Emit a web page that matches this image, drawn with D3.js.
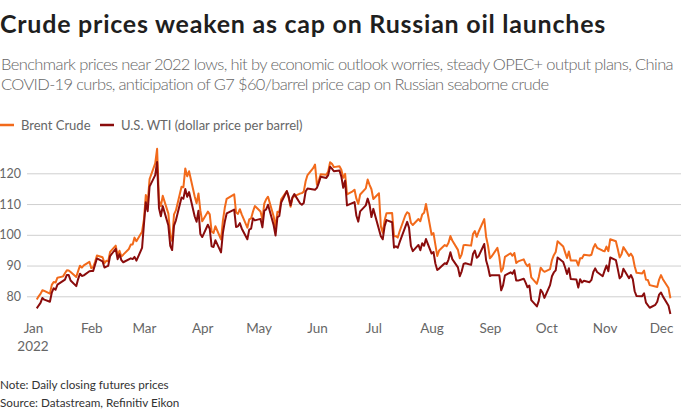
<!DOCTYPE html>
<html lang="en">
<head>
<meta charset="UTF-8">
<title>Crude prices</title>
<style>
    body { margin: 0; background: #fff; }
    svg { display: block; font-family: Lato, "Noto Sans", sans-serif; }
</style>
</head>
<body>
<script src="https://cdn.jsdelivr.net/npm/d3@7"></script>
<script>
    const W = 681, H = 413;

    // trading days 2022 (MM-DD)
    const dates = [
        "01-03","01-04","01-05","01-06","01-07","01-10","01-11","01-12","01-13","01-14","01-17","01-18","01-19","01-20","01-21","01-24","01-25","01-26","01-27","01-28","01-31",
        "02-01","02-02","02-03","02-04","02-07","02-08","02-09","02-10","02-11","02-14","02-15","02-16","02-17","02-18","02-21","02-22","02-23","02-24","02-25","02-28",
        "03-01","03-02","03-03","03-04","03-07","03-08","03-09","03-10","03-11","03-14","03-15","03-16","03-17","03-18","03-21","03-22","03-23","03-24","03-25","03-28","03-29","03-30","03-31",
        "04-01","04-04","04-05","04-06","04-07","04-08","04-11","04-12","04-13","04-14","04-18","04-19","04-20","04-21","04-22","04-25","04-26","04-27","04-28","04-29",
        "05-02","05-03","05-04","05-05","05-06","05-09","05-10","05-11","05-12","05-13","05-16","05-17","05-18","05-19","05-20","05-23","05-24","05-25","05-26","05-27","05-30","05-31",
        "06-01","06-02","06-03","06-06","06-07","06-08","06-09","06-10","06-13","06-14","06-15","06-16","06-17","06-20","06-21","06-22","06-23","06-24","06-27","06-28","06-29","06-30",
        "07-01","07-04","07-05","07-06","07-07","07-08","07-11","07-12","07-13","07-14","07-15","07-18","07-19","07-20","07-21","07-22","07-25","07-26","07-27","07-28","07-29",
        "08-01","08-02","08-03","08-04","08-05","08-08","08-09","08-10","08-11","08-12","08-15","08-16","08-17","08-18","08-19","08-22","08-23","08-24","08-25","08-26","08-29","08-30","08-31",
        "09-01","09-02","09-05","09-06","09-07","09-08","09-09","09-12","09-13","09-14","09-15","09-16","09-19","09-20","09-21","09-22","09-23","09-26","09-27","09-28","09-29","09-30",
        "10-03","10-04","10-05","10-06","10-07","10-10","10-11","10-12","10-13","10-14","10-17","10-18","10-19","10-20","10-21","10-24","10-25","10-26","10-27","10-28","10-31",
        "11-01","11-02","11-03","11-04","11-07","11-08","11-09","11-10","11-11","11-14","11-15","11-16","11-17","11-18","11-21","11-22","11-23","11-24","11-25","11-28","11-29","11-30",
        "12-01","12-02","12-05","12-06"
    ];

    const brent = [
        78.98,80.00,80.80,81.99,81.75,80.87,83.72,84.67,84.47,86.06,86.48,87.51,88.44,88.38,87.89,86.27,88.20,89.96,89.34,90.03,91.21,
        89.16,89.47,91.11,93.27,92.69,90.78,91.55,91.41,94.44,96.48,93.28,94.81,92.97,93.54,95.39,96.84,96.84,99.08,97.93,100.99,
        104.97,112.93,110.46,118.11,123.21,127.98,111.14,109.33,112.67,106.90,99.91,98.02,106.64,107.93,115.62,115.48,121.60,119.03,120.65,112.48,110.23,113.45,107.91,
        104.39,107.53,106.64,101.07,100.58,102.78,98.48,104.64,108.78,111.70,113.16,107.25,106.80,108.33,106.65,102.32,104.99,105.32,107.59,109.34,
        107.58,104.97,110.14,111.55,112.39,105.94,102.46,107.51,107.45,111.55,114.24,111.93,109.11,112.04,112.55,113.42,113.56,114.03,117.40,119.43,121.67,122.84,
        116.29,117.61,119.72,119.51,120.57,123.58,123.07,122.01,122.27,121.17,118.51,119.81,113.12,114.13,114.65,111.74,110.05,113.12,115.09,117.98,116.26,114.81,
        111.63,113.50,102.77,100.69,104.65,107.02,107.10,99.49,99.57,99.10,101.16,106.27,107.35,106.92,103.86,103.20,105.15,104.40,106.62,107.14,110.01,
        100.03,100.54,96.78,93.12,94.92,96.65,96.31,97.40,99.60,98.15,95.10,92.34,93.65,96.59,96.72,96.48,100.22,101.22,99.34,100.99,105.09,99.31,96.49,
        92.36,93.02,95.74,92.83,88.00,89.15,92.84,94.00,93.17,94.10,90.84,91.35,92.00,90.62,89.83,90.46,86.15,84.06,86.27,89.32,88.49,87.96,
        88.86,91.80,93.37,94.42,97.92,96.19,94.29,92.45,94.57,91.63,91.62,90.03,92.41,92.38,93.50,93.26,93.52,95.69,96.96,95.77,94.83,
        94.65,96.16,94.67,98.57,97.92,95.36,92.65,93.67,95.99,93.14,93.86,92.86,89.78,87.62,87.45,88.36,85.41,85.34,83.63,83.19,83.03,85.43,
        86.88,85.57,82.68,79.35
    ];

    // null = no WTI settlement that day (US holiday)
    const wti = [
        76.08,76.99,77.85,79.46,78.90,78.23,81.22,82.64,82.12,83.82,null,85.43,86.96,86.90,85.14,83.31,85.60,87.35,86.61,86.82,88.15,
        88.20,88.26,90.27,92.31,91.32,89.36,89.66,89.88,93.10,95.46,92.07,93.66,91.76,91.07,null,92.35,92.10,92.81,91.59,95.72,
        103.41,110.60,107.67,115.68,119.40,123.70,108.70,106.02,109.33,103.01,96.44,95.04,102.98,104.70,112.12,111.76,114.93,112.34,113.90,105.96,104.24,107.82,100.28,
        99.27,103.28,101.96,96.23,96.03,98.26,94.29,100.60,104.25,106.95,108.21,102.56,102.75,103.79,102.07,98.54,101.70,102.02,105.36,104.69,
        105.17,102.41,107.81,108.26,109.77,103.09,99.76,105.71,106.13,110.49,114.20,112.40,109.59,112.21,113.23,110.29,109.77,110.33,114.09,115.07,null,114.67,
        115.26,116.87,118.87,118.50,119.41,122.11,121.51,120.67,120.93,118.93,115.31,117.59,109.56,null,110.65,106.19,104.27,107.62,109.57,111.76,109.78,105.76,
        108.43,null,99.50,98.53,102.73,104.79,104.09,95.84,96.30,95.78,97.59,102.60,104.22,102.26,96.35,94.70,96.70,94.98,97.26,96.42,98.62,
        93.89,94.42,90.66,88.54,89.01,90.76,90.50,91.93,94.34,92.09,89.41,86.53,88.11,90.50,90.77,90.23,93.74,94.89,92.52,93.06,97.01,91.64,89.55,
        86.61,86.87,null,86.88,81.94,83.54,86.79,87.78,87.31,88.48,85.10,85.11,85.73,84.45,82.94,83.49,78.74,76.71,78.50,82.15,81.23,79.49,
        83.63,86.52,87.76,88.45,92.64,91.13,89.35,87.27,89.11,85.61,85.46,82.82,85.55,84.51,85.05,84.58,85.32,87.91,89.08,87.90,86.53,
        88.37,90.00,88.17,92.61,91.79,88.91,85.83,86.47,88.96,85.87,86.92,85.59,81.64,80.08,80.04,80.95,77.94,null,76.28,77.24,78.20,80.55,
        81.22,79.98,76.93,74.25
    ];

    const yTicks = [80, 90, 100, 110, 120];
    const seriesNames = ["Brent Crude", "U.S. WTI (dollar price per barrel)"];
    const colors = ["#f26a1b", "#8a0c0c"];

    const parse = d3.timeParse("%Y-%m-%d");
    const days = dates.map(d => parse("2022-" + d));

    const svg = d3.select("body").append("svg")
        .attr("width", W)
        .attr("height", H);

    // resserre un texte par letter-spacing jusqu'a la largeur voulue
    function fitWidth(sel, target) {
        sel.each(function () {
            const n = this.textContent.length;
            const w = this.getComputedTextLength();
            d3.select(this).style("letter-spacing", ((target - w) / n) + "px");
        });
    }

    // titre et sous-titre
    svg.append("text")
        .attr("x", 0).attr("y", 33)
        .style("font-size", "25px").style("font-weight", 700).style("fill", "#1f1f1f")
        .text("Crude prices weaken as cap on Russian oil launches")
        .call(fitWidth, 606);

    const sub = [
        ["Benchmark prices near 2022 lows, hit by economic outlook worries, steady OPEC+ output plans, China", 672, 70],
        ["COVID-19 curbs, anticipation of G7 $60/barrel price cap on Russian seaborne crude", 548, 90]
    ];
    svg.selectAll(".sub").data(sub).join("text")
        .attr("class", "sub")
        .attr("x", 1).attr("y", d => d[2])
        .style("font-size", "16.5px").style("font-weight", 300).style("fill", "#666")
        .text(d => d[0])
        .each(function (d) { d3.select(this).call(fitWidth, d[1]); });

    // legende
    const legX = [0, 100];
    const leg = svg.selectAll(".leg").data(seriesNames).join("g")
        .attr("class", "leg")
        .attr("transform", (d, i) => `translate(${legX[i]}, 125)`);
    leg.append("line")
        .attr("x1", 0).attr("x2", 14)
        .attr("stroke", (d, i) => colors[i]).attr("stroke-width", 2.5);
    leg.append("text")
        .attr("x", 21).attr("y", 4.5)
        .style("font-size", "13px").style("fill", "#666")
        .text(d => d);

    // echelles
    const x = d3.scaleTime()
        .domain([new Date(2022, 0, 1), new Date(2022, 11, 1)])
        .range([33, 661]);
    const y = d3.scaleLinear()
        .domain([80, 120])
        .range([296.3, 173.3]);

    // grille + axe y
    const gy = svg.append("g")
        .attr("transform", `translate(${W}, 0)`)
        .call(d3.axisLeft(y).tickValues(yTicks).tickSize(W - 27).tickPadding(6));
    gy.select(".domain").remove();
    gy.selectAll(".tick line").attr("stroke", "#cfcfcf");
    gy.selectAll(".tick text").style("font-size", "12.5px").style("fill", "#666").style("font-family", "Lato, sans-serif");

    // axe x
    const gx = svg.append("g")
        .attr("transform", "translate(0, 314)")
        .call(d3.axisBottom(x).ticks(d3.timeMonth.every(1)).tickFormat(d3.timeFormat("%b")).tickSize(0).tickPadding(9));
    gx.select(".domain").remove();
    gx.selectAll(".tick text").style("font-size", "13.5px").style("fill", "#666").style("font-family", "Lato, sans-serif");
    svg.append("text")
        .attr("x", x(new Date(2022, 0, 1))).attr("y", 351)
        .attr("text-anchor", "middle")
        .style("font-size", "13.5px").style("fill", "#666")
        .text("2022");

    // courbes
    const line = d3.line()
        .x(d => x(d.date))
        .y(d => y(d.v));

    [brent, wti].forEach((vals, i) => {
        const pts = days.map((d, k) => ({ date: d, v: vals[k] })).filter(p => p.v != null);
        svg.append("path")
            .datum(pts)
            .attr("fill", "none")
            .attr("stroke", colors[i])
            .attr("stroke-width", 2)
            .attr("stroke-linejoin", "round")
            .attr("d", line);
    });

    // notes
    const foot = ["Note: Daily closing futures prices", "Source: Datastream, Refinitiv Eikon"];
    svg.selectAll(".foot").data(foot).join("text")
        .attr("class", "foot")
        .attr("x", 0).attr("y", (d, i) => 389 + i * 17.5)
        .style("font-size", "11.7px").style("fill", "#333")
        .text(d => d);
</script>
</body>
</html>
